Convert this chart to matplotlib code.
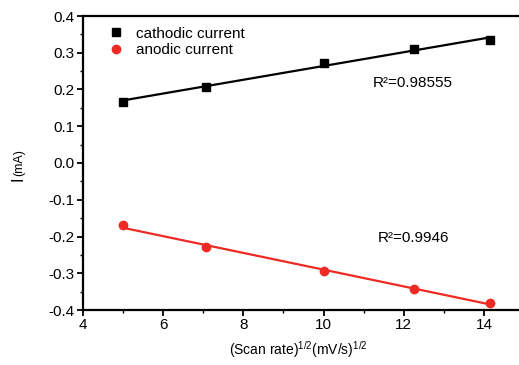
import numpy as np
import matplotlib
matplotlib.use("Agg")
import matplotlib.pyplot as plt
from matplotlib.ticker import MultipleLocator

# data
scan_rate_sqrt = [5.0, 7.07, 10.0, 12.25, 14.14]
cathodic = [0.167, 0.207, 0.273, 0.310, 0.334]
anodic = [-0.170, -0.229, -0.294, -0.343, -0.380]
r2_cathodic = "R\u00b2=0.98555"
r2_anodic = "R\u00b2=0.9946"

plt.rcParams['font.family'] = ['Liberation Sans', 'DejaVu Sans']

fig = plt.figure(figsize=(5.19, 3.65), dpi=100)
ax = fig.add_axes([83/519, 55/365, 441/519, 294/365])

x = np.array(scan_rate_sqrt)
for y, col, mk, ms, lab in [(cathodic, 'black', 's', 5.5, 'cathodic current'),
                            (anodic, '#ee2a24', 'o', 6.0, 'anodic current')]:
    y = np.array(y)
    p = np.polyfit(x, y, 1)
    ax.plot(x, np.polyval(p, x), color=col, lw=1.6, zorder=2)
    ax.plot(x, y, linestyle='none', marker=mk, color=col, ms=ms, label=lab, zorder=3)

ax.set_xlim(4, 15)
ax.set_ylim(-0.4, 0.4)
ax.xaxis.set_major_locator(MultipleLocator(2))
ax.xaxis.set_minor_locator(MultipleLocator(1))
ax.yaxis.set_major_locator(MultipleLocator(0.1))
ax.yaxis.set_minor_locator(MultipleLocator(0.05))
ax.yaxis.set_major_formatter(matplotlib.ticker.FuncFormatter(lambda v, p: f"{v:.1f}".replace("-0.0", "0.0")))
ax.tick_params(which='major', direction='out', length=4.5, width=1.3, labelsize=11, pad=1.5)
ax.tick_params(which='minor', direction='out', length=2.5, width=1.0)
for s in ax.spines.values():
    s.set_linewidth(1.6)

fig.text(298/519, 1 - 355/365,
         r"(Scan rate)$^{\mathregular{1/2}}$(mV/s)$^{\mathregular{1/2}}$",
         fontsize=10, ha='center', va='baseline')
# y label: "I" larger, "(mA)" smaller
fig.text(23/519, 1 - 179/365, "I", fontsize=12, rotation=90, rotation_mode='anchor',
         ha='center', va='baseline')
fig.text(22/519, 1 - 176/365, "(mA)", fontsize=9, rotation=90, rotation_mode='anchor',
         ha='left', va='baseline')

fig.text(373/519, 1 - 83/365, r2_cathodic, fontsize=11, va='center', ha='left')
fig.text(378/519, 1 - 238/365, r2_anodic, fontsize=11, va='center', ha='left')

ax.legend(loc='upper left', bbox_to_anchor=(0.034, 1.0), frameon=False, fontsize=11,
          handletextpad=0.8, borderaxespad=0.3, labelspacing=0.15, handlelength=1.0)

fig.savefig("out.png", dpi=100)
